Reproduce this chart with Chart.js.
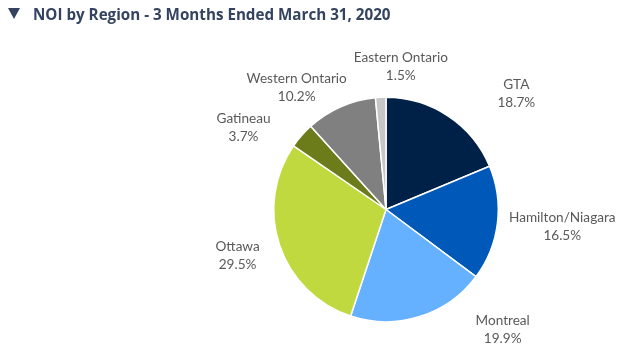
<!DOCTYPE html>
<html>
<head>
<meta charset="utf-8">
<script src="https://cdn.jsdelivr.net/npm/chart.js@4"></script>
<style>
  html, body { margin: 0; padding: 0; background: #ffffff; }
  #wrap { position: relative; width: 624px; height: 349px; }
  #title {
    position: absolute; left: 8px; top: 4px;
    font-family: 'Open Sans', sans-serif; font-weight: 700; font-size: 15.2px;
    color: #34435f; white-space: nowrap;
  }
  #title .arrow { display: inline-block; width: 0; height: 0; margin-right: 13px;
    border-left: 6px solid transparent; border-right: 6px solid transparent;
    border-top: 11px solid #34435f; vertical-align: 1px; }
  canvas { position: absolute; left: 0; top: 0; }
</style>
</head>
<body>
<div id="wrap">
  <canvas id="noiChart" width="624" height="349"></canvas>
  <div id="title"><span class="arrow"></span>NOI by Region - 3 Months Ended March 31, 2020</div>
</div>
<script>
// NOI share by region, clockwise from 12 o'clock
const regions = ['GTA', 'Hamilton/Niagara', 'Montreal', 'Ottawa', 'Gatineau', 'Western Ontario', 'Eastern Ontario'];
const shares = [18.7, 16.5, 19.9, 29.5, 3.7, 10.2, 1.5];
const colors = ['#002147', '#0059b8', '#66b1ff', '#bfd93f', '#6c7c1b', '#808080', '#c6c6c6'];

// label nudges from the slice's outer anchor point (px)
const labelNudge = [[57, -6], [45, 1], [77, -6], [-23, 4], [-43, 5], [-36, -1], [21, -11]];

const outsideLabels = {
  id: 'outsideLabels',
  afterDatasetsDraw(chart) {
    const ctx = chart.ctx;
    const meta = chart.getDatasetMeta(0);
    ctx.save();
    ctx.font = '13.6px Lato, "Open Sans", sans-serif';
    ctx.fillStyle = '#595959';
    ctx.textAlign = 'center';
    ctx.textBaseline = 'middle';
    meta.data.forEach((arc, i) => {
      const p = arc.getProps(['x', 'y', 'startAngle', 'endAngle', 'outerRadius'], true);
      const mid = (p.startAngle + p.endAngle) / 2;
      const r = p.outerRadius + 20;
      const x = p.x + Math.cos(mid) * r + labelNudge[i][0];
      const y = p.y + Math.sin(mid) * r + labelNudge[i][1];
      ctx.fillText(regions[i], x, y - 9);
      ctx.fillText(shares[i].toFixed(1) + '%', x, y + 9);
    });
    ctx.restore();
  }
};

new Chart(document.getElementById('noiChart'), {
  type: 'pie',
  data: {
    labels: regions,
    datasets: [{
      data: shares,
      backgroundColor: colors,
      borderColor: '#ffffff',
      borderWidth: 1.5
    }]
  },
  options: {
    responsive: false,
    animation: false,
    layout: { padding: { top: 96, bottom: 26, left: 273, right: 125 } },
    plugins: {
      legend: { display: false },
      tooltip: { enabled: false }
    }
  },
  plugins: [outsideLabels]
});
</script>
</body>
</html>
